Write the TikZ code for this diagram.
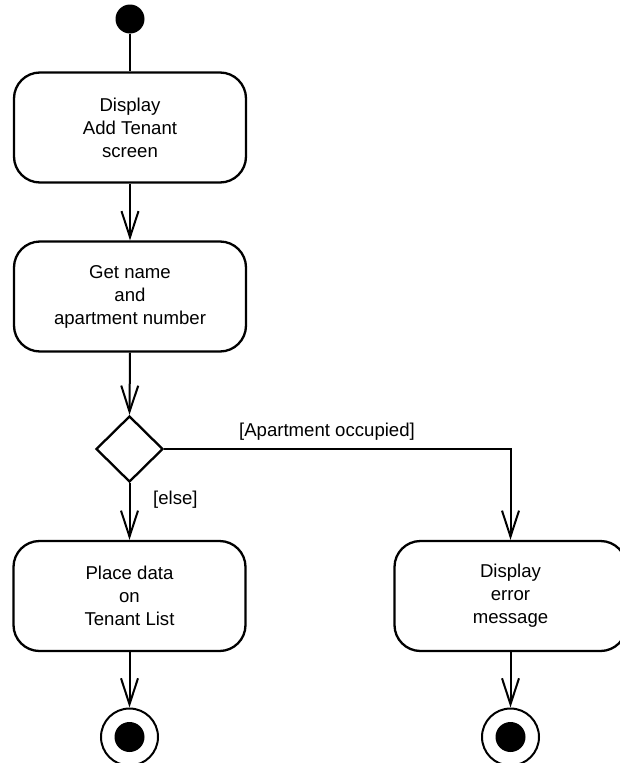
\documentclass[tikz,border=0pt]{standalone}
\usepackage{fontspec}
\setmainfont{Liberation Sans}
\usetikzlibrary{shapes.geometric,arrows.meta}
\begin{document}
\begin{tikzpicture}[x=1pt,y=-1pt,
  txt/.style={font=\fontsize{18.6}{23}\selectfont},
  act/.style={txt,draw,line width=2.3pt,rounded corners=26pt,minimum width=232pt,minimum height=110pt,align=center,inner sep=0pt},
  flow/.style={line width=2pt,-{Straight Barb[length=26pt,width=17pt,line width=2pt]}},
  plainline/.style={line width=2pt},
  decision/.style={draw,diamond,line width=2.3pt,minimum width=67pt,minimum height=66pt,inner sep=0pt},
  startdot/.style={circle,fill=black,inner sep=0pt,minimum size=29pt},
  endring/.style={circle,draw,line width=2pt,inner sep=0pt,minimum size=57pt},
  enddot/.style={circle,fill=black,inner sep=0pt,minimum size=30pt},
  guard/.style={txt,inner sep=0pt}
]
\useasboundingbox (0,0) rectangle (619,763);

\node[startdot] (start) at (130,19) {};
\node[act] (b1) at (130,127.5) {Display\\Add Tenant\\screen};
\node[act] (b2) at (130,296.5) {Get name\\and\\apartment number};
\node[decision] (dec) at (129.5,449) {};
\node[act] (b3) at (129.5,596) {Place data\\on\\Tenant List};
\node[act] (b4) at (510.5,596) {Display\\error\\message};
\node[endring] (e1) at (129.5,737) {};
\node[enddot] (e1d) at (129.5,737) {};
\node[endring] (e2) at (510.5,737) {};
\node[enddot] (e2d) at (510.5,737) {};

\draw[plainline] (start) -- (b1.north);
\draw[flow] (b1.south) -- (b2.north);
\draw[flow] (b2.south) -- (dec.north);
\draw[flow] (dec.south) -- (b3.north);
\draw[flow] (dec.east) -| (b4.north);
\draw[flow] (b3.south) -- (e1.north);
\draw[flow] (b4.south) -- (e2.north);

\node[guard] (g1) at (327,432) {[Apartment occupied]};
\node[guard,anchor=west] (g2) at (153,500) {[else]};
\end{tikzpicture}
\end{document}
